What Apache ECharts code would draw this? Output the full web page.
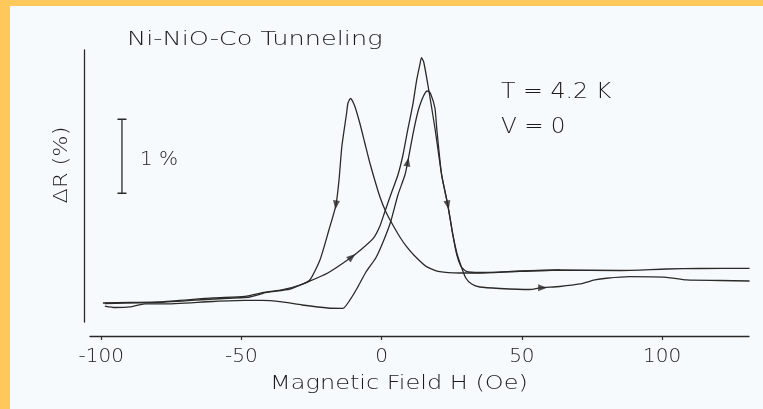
<!DOCTYPE html>
<html>
<head>
<meta charset="utf-8">
<script src="https://cdn.jsdelivr.net/npm/echarts@6/dist/echarts.min.js"></script>
<style>
  html, body { margin: 0; padding: 0; background: #F7FAFC; }
  #chart { width: 763px; height: 409px; }
</style>
</head>
<body>
<div id="chart"></div>
<script>
// Decreasing-field sweep (from +H to -H)
const downH = [131.2,113.4,101.6,84.9,63.5,49.3,35.0,27.9,20.7,16.0,11.8,8.9,6.5,4.0,1.7,-0.6,-4.2,-6.0,-7.8,-9.6,-11.1,-12.0,-12.5,-14.2,-15.2,-16.3,-18.8,-22.0,-25.6,-29.2,-35.6,-41.0,-48.8,-60.2,-79.1,-89.8,-99.4];
const downR = [0.496,0.493,0.486,0.466,0.473,0.453,0.432,0.432,0.450,0.518,0.662,0.788,0.919,1.081,1.243,1.459,1.919,2.189,2.459,2.689,2.793,2.730,2.591,2.139,1.689,1.351,1.014,0.608,0.338,0.270,0.203,0.176,0.115,0.095,0.041,0.034,0.027];

// Increasing-field sweep 1 (dip, lower peak, lower flat branch)
const up1H = [-98.7,-95.1,-89.8,-84.4,-78.0,-60.2,-48.8,-42.7,-35.6,-28.4,-19.2,-13.8,-11.3,-8.5,-5.6,-2.1,0.8,3.3,5.8,8.3,9.3,11.1,12.9,14.3,15.7,16.6,17.5,19.0,19.7,21.4,23.6,25.4,26.8,28.2,30.0,32.1,35.0,42.1,52.8,56.4,63.5,70.7,76.0,80.2,88.5,101.6,108.7,120.6,131.2];
const up1R = [-0.014,-0.034,-0.027,0.014,0.014,0.047,0.061,0.061,0.041,0.0,-0.041,-0.045,0.068,0.243,0.446,0.635,0.878,1.135,1.486,1.757,1.932,2.297,2.608,2.770,2.878,2.892,2.851,2.662,2.365,1.757,1.351,0.946,0.703,0.541,0.365,0.284,0.243,0.223,0.209,0.230,0.250,0.284,0.338,0.361,0.382,0.374,0.338,0.331,0.324];

// Increasing-field sweep 2 (gradual rise, tall peak, upper flat branch)
const up2H = [-98.7,-79.1,-60.2,-47.0,-41.0,-32.7,-26.3,-19.2,-11.3,-7.1,-3.0,-0.6,1.1,3.6,5.8,7.6,9.3,11.1,12.5,13.6,14.2,15.0,16.5,19.0,21.4,23.6,25.4,26.8,28.2,30.0,35.0,49.3,63.5];
const up2R = [0.020,0.034,0.081,0.108,0.169,0.216,0.311,0.432,0.631,0.757,0.900,1.068,1.257,1.527,1.757,2.027,2.365,2.703,3.041,3.243,3.342,3.284,2.973,2.392,1.757,1.351,0.946,0.676,0.527,0.459,0.439,0.459,0.473];

// 1 % scale bar
const barH = [-92.6, -92.6];
const barR = [1.51, 2.51];

// Sweep-direction arrows on the curves
const arrowH = [-16.3, 23.6, 9.3, -10.6, 57.4];
const arrowR = [1.351, 1.351, 1.932, 0.650, 0.233];
const arrowDir = [173, 192, -11, -51, -90];

const xTicks = [-100, -50, 0, 50, 100];

const pairs = (xs, ys) => xs.map((x, i) => [x, ys[i]]);
const FONT = '"DejaVu Sans", sans-serif';
const INK = '#2a2a2a';
const TEXT = '#1c1c1c';

const chart = echarts.init(document.getElementById('chart'), null, { renderer: 'canvas' });

const lineSeries = (data) => ({
  type: 'line',
  data: data,
  showSymbol: false,
  smooth: 0.2,
  lineStyle: { color: INK, width: 1.3 },
  silent: true,
  z: 3
});

const txt = (text, x, y, size, align, extra) => Object.assign({
  type: 'text', x: x, y: y, silent: true,
  style: { text: text, font: '200 ' + size + 'px ' + FONT, fill: TEXT, align: align, verticalAlign: 'middle' }
}, extra || {});

chart.setOption({
  animation: false,
  backgroundColor: '#F7FAFC',
  grid: { left: 90, right: 14, top: 50, bottom: 87 },
  xAxis: {
    type: 'value',
    min: -104,
    max: 131,
    offset: 14,
    axisLine: { show: true, onZero: false, lineStyle: { color: '#2a2a2a', width: 1.3 } },
    axisTick: { show: true, customValues: xTicks, length: 4, lineStyle: { color: '#2a2a2a', width: 1.2 } },
    axisLabel: { customValues: xTicks, margin: 11, fontSize: 20, fontWeight: 200, color: TEXT, fontFamily: FONT },
    splitLine: { show: false }
  },
  yAxis: {
    type: 'value',
    min: -0.23,
    max: 3.446,
    offset: 6,
    axisLine: { show: true, onZero: false, lineStyle: { color: '#2a2a2a', width: 1.3 } },
    axisTick: { show: false },
    axisLabel: { show: false },
    splitLine: { show: false }
  },
  series: [
    lineSeries(pairs(downH, downR)),
    lineSeries(pairs(up1H, up1R)),
    lineSeries(pairs(up2H, up2R)),
    {
      type: 'line',
      data: pairs(barH, barR),
      symbol: 'rect',
      symbolSize: [9, 1.5],
      showSymbol: true,
      itemStyle: { color: INK },
      lineStyle: { color: INK, width: 1.3 },
      silent: true,
      z: 3
    },
    {
      type: 'scatter',
      data: arrowH.map((h, i) => ({ value: [h, arrowR[i]], symbolRotate: arrowDir[i] })),
      symbol: 'triangle',
      symbolSize: [7, 9],
      itemStyle: { color: INK },
      silent: true,
      z: 4
    }
  ],
  graphic: [
    { type: 'rect', shape: { x: 0, y: 0, width: 763, height: 6 }, style: { fill: '#FFC85A' }, silent: true },
    { type: 'rect', shape: { x: 0, y: 0, width: 10, height: 409 }, style: { fill: '#FFC85A' }, silent: true },
    txt('Ni-NiO-Co Tunneling', 127, 40, 20, 'left', { scaleX: 1.28 }),
    txt('T = 4.2 K', 501, 93, 21, 'left', { scaleX: 1.13 }),
    txt('V = 0', 501, 128, 21, 'left', { scaleX: 1.1 }),
    txt('1 %', 140, 160, 20, 'left'),
    txt('ΔR (%)', 62, 165, 19, 'center', { rotation: Math.PI / 2, scaleX: 1.18 }),
    txt('Magnetic Field H (Oe)', 399, 384, 20, 'center', { scaleX: 1.2 })
  ]
});
</script>
</body>
</html>
